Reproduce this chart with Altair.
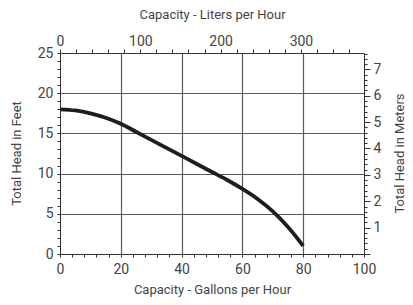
import altair as alt
import pandas as pd

# Pump curve
gallons = [0, 5, 10, 15, 20, 25, 30, 35, 40, 45, 50, 55, 60, 65, 70, 75, 80]
head_ft = [18.0, 17.85, 17.5, 16.95, 16.2, 15.2, 14.2, 13.2, 12.2, 11.2, 10.2, 9.2, 8.1, 6.85, 5.3, 3.35, 1.0]

gal_ticks = list(range(0, 101, 4))
ft_ticks = list(range(0, 26, 1))
liter_ticks = list(range(0, 361, 20))
meter_ticks = [round(k * 0.2, 1) for k in range(0, 39)]

L_PER_GAL = 3.78541
M_PER_FT = 0.3048

df = pd.DataFrame({"gal": gallons, "ft": head_ft})
df["liters"] = df["gal"] * L_PER_GAL
df["meters"] = df["ft"] * M_PER_FT

FONT = "Roboto, Liberation Sans, sans-serif"
TXT = "#444444"
AX = "#333333"
GRID = "#5a5a5a"

common = dict(
    labelFont=FONT, labelFontSize=14, labelColor=TXT,
    titleFont=FONT, titleFontSize=13, titleColor=TXT, titleFontWeight="normal",
    domainColor=AX, domainWidth=1, tickColor=AX, tickWidth=1,
    labelOverlap=False, labelFlush=False,
)

line = alt.Chart(df).mark_line(
    color="#1e1e1e", strokeWidth=3.8, interpolate="monotone"
).encode(
    x=alt.X(
        "gal:Q",
        scale=alt.Scale(domain=[0, 100], nice=False, zero=True),
        axis=alt.Axis(
            orient="bottom",
            title="Capacity - Gallons per Hour",
            values=gal_ticks,
            labelExpr="datum.value % 20 === 0 ? datum.label : ''",
            tickSize=3, labelPadding=5,
            grid=True, gridColor=GRID, gridWidth=1.2,
            gridOpacity={"condition": {"test": "datum.value % 20 === 0 && datum.value > 0 && datum.value < 100", "value": 1}, "value": 0},
            titleX=152, titleY=39, titleBaseline="alphabetic", titleAnchor="middle", titleAlign="center",
            **common,
        ),
    ),
    y=alt.Y(
        "ft:Q",
        scale=alt.Scale(domain=[0, 25], nice=False, zero=True),
        axis=alt.Axis(
            orient="left",
            title="Total Head in Feet",
            values=ft_ticks,
            labelExpr="datum.value % 5 === 0 ? datum.label : ''",
            tickSize=3, labelPadding=4,
            grid=True, gridColor=GRID, gridWidth=1.2,
            gridOpacity={"condition": {"test": "datum.value % 5 === 0 && datum.value > 0 && datum.value < 25", "value": 1}, "value": 0},
            titleX=-44, titleY=100, titleAngle=-90, titleBaseline="middle", titleAlign="center",
            **common,
        ),
    ),
)

metric = alt.Chart(df).mark_point(opacity=0).encode(
    x=alt.X(
        "liters:Q",
        scale=alt.Scale(domain=[0, 100 * L_PER_GAL], nice=False, zero=True),
        axis=alt.Axis(
            orient="top",
            title="Capacity - Liters per Hour",
            values=liter_ticks,
            labelExpr="datum.value % 100 === 0 ? datum.label : ''",
            tickSize=4, labelPadding=1,
            grid=False,
            titleX=152, titleY=-35, titleBaseline="alphabetic", titleAnchor="middle", titleAlign="center",
            **common,
        ),
    ),
    y=alt.Y(
        "meters:Q",
        scale=alt.Scale(domain=[0, 25 * M_PER_FT], nice=False, zero=True),
        axis=alt.Axis(
            orient="right",
            title="Total Head in Meters",
            values=meter_ticks,
            labelExpr="abs(datum.value - round(datum.value)) < 0.01 && datum.value > 0 ? format(datum.value, 'd') : ''",
            tickSize={"condition": {"test": "abs(datum.value - round(datum.value)) < 0.01", "value": 6}, "value": 3},
            labelPadding=3,
            grid=False,
            titleX=35, titleY=100, titleAngle=-90, titleBaseline="middle", titleAlign="center",
            **common,
        ),
    ),
)

chart = alt.layer(line, metric).resolve_scale(
    x="independent", y="independent"
).properties(
    width=304, height=201,
    autosize=alt.AutoSizeParams(type="none"),
    padding={"left": 52, "top": 45, "right": 41, "bottom": 43},
    background="white",
).configure_view(strokeWidth=0)

chart.save("out.html", embed_options={"renderer": "svg", "actions": False})
